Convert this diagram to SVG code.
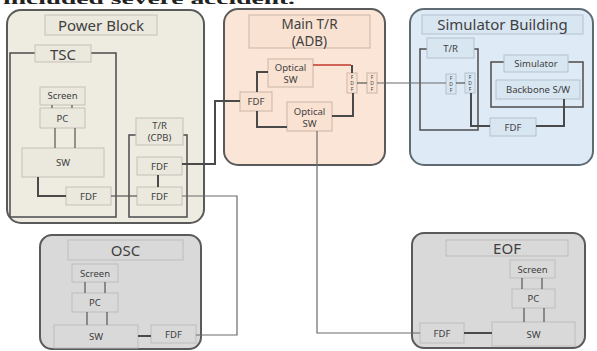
<svg xmlns="http://www.w3.org/2000/svg" width="597" height="351" viewBox="0 0 597 351">
  <style>
    .t { font-family: "Noto Sans", "Open Sans", "Liberation Sans", sans-serif; fill: #404040; text-anchor: middle; }
    .big { font-size: 15px; }
    .mid { font-size: 13.5px; }
    .sm { font-size: 9.5px; }
    .tiny { font-size: 5px; }
    .outer { stroke: #5a5a5a; stroke-width: 2; }
    .pb { fill: #eeebe1; }
    .mt { fill: #fbe5d6; }
    .sb { fill: #deebf7; stroke: #5f6b73; }
    .gr { fill: #d9d9d9; }
    .bx-pb { fill: #ebe8de; stroke: #c4c1b8; stroke-width: 1; }
    .bx-mt { fill: #fae2d2; stroke: #c9b5a8; stroke-width: 1; }
    .bx-sb { fill: #d8e6f2; stroke: #b4c2cc; stroke-width: 1; }
    .bx-gr { fill: #d9d9d9; stroke: #bdbdbd; stroke-width: 1; }
    .brk { fill: none; stroke: #555; stroke-width: 1.6; }
    .lk { fill: none; stroke: #4a4a4a; stroke-width: 2; }
    .pair { fill: none; stroke: #555; stroke-width: 1.2; }
    .far { fill: none; stroke: #6a6a6a; stroke-width: 1.2; }
    .red { fill: none; stroke: #c0392b; stroke-width: 1.6; }
  </style>

  <!-- caption line above the figure; only its lower edge falls inside the frame -->
  <text x="3" y="4" font-family="Liberation Serif, serif" font-size="14" font-weight="bold" fill="#222" textLength="292" lengthAdjust="spacingAndGlyphs">included severe accident.</text>

  <!-- Power Block -->
  <g id="power-block">
    <rect class="outer pb" x="7" y="10" width="197" height="213" rx="14"/>
    <rect class="bx-pb" x="45" y="15" width="112" height="20"/>
    <text class="t big" x="101" y="31">Power Block</text>
  </g>
  <g id="tsc">
    <rect class="brk" x="10" y="53" width="106" height="164"/>
    <rect class="bx-pb" x="35" y="45" width="56" height="17"/>
    <text class="t big" x="63" y="60">TSC</text>
  </g>
  <g id="tsc-screen">
    <rect class="bx-pb" x="40" y="87" width="45" height="18"/>
    <text class="t sm" x="62.5" y="99">Screen</text>
  </g>
  <g id="tsc-pc">
    <rect class="bx-pb" x="40" y="108" width="45" height="20"/>
    <text class="t sm" x="62.5" y="121.5">PC</text>
  </g>
  <g id="tsc-sw">
    <rect class="bx-pb" x="22" y="148" width="82" height="29"/>
    <text class="t sm" x="63" y="166">SW</text>
  </g>
  <g id="tsc-fdf">
    <rect class="bx-pb" x="66" y="187" width="45" height="18"/>
    <text class="t sm" x="88.5" y="199.5">FDF</text>
  </g>
  <g id="cpb">
    <rect class="brk" x="129" y="135" width="58" height="82"/>
    <rect class="bx-pb" x="136" y="118" width="47" height="27"/>
    <text class="t sm" x="159.5" y="129">T/R</text>
    <text class="t sm" x="159.5" y="141">(CPB)</text>
  </g>
  <g id="cpb-fdf-1">
    <rect class="bx-pb" x="137" y="157" width="45" height="18"/>
    <text class="t sm" x="159.5" y="169.5">FDF</text>
  </g>
  <g id="cpb-fdf-2">
    <rect class="bx-pb" x="137" y="187" width="45" height="18"/>
    <text class="t sm" x="159.5" y="199.5">FDF</text>
  </g>

  <!-- Main T/R (ADB) -->
  <g id="main-tr">
    <rect class="outer mt" x="224" y="9" width="161" height="156" rx="14"/>
    <rect class="bx-mt" x="249" y="15" width="121" height="33"/>
    <text class="t mid" x="309.5" y="28.5">Main T/R</text>
    <text class="t mid" x="309.5" y="45.5">(ADB)</text>
  </g>
  <g id="adb-osw-1">
    <rect class="bx-mt" x="268" y="59" width="45" height="28"/>
    <text class="t sm" x="290.5" y="71">Optical</text>
    <text class="t sm" x="290.5" y="83">SW</text>
  </g>
  <g id="adb-osw-2">
    <rect class="bx-mt" x="287" y="102" width="45" height="29"/>
    <text class="t sm" x="309.5" y="114.5">Optical</text>
    <text class="t sm" x="309.5" y="126.5">SW</text>
  </g>
  <g id="adb-fdf">
    <rect class="bx-mt" x="240" y="92" width="32" height="19"/>
    <text class="t sm" x="256" y="105">FDF</text>
  </g>
  <g id="adb-fdf-a">
    <rect class="bx-mt" x="347" y="73" width="10" height="20"/>
    <text class="t tiny" x="352" y="79">F</text>
    <text class="t tiny" x="352" y="85">D</text>
    <text class="t tiny" x="352" y="91">F</text>
  </g>
  <g id="adb-fdf-b">
    <rect class="bx-mt" x="367" y="73" width="10" height="20"/>
    <text class="t tiny" x="372" y="79">F</text>
    <text class="t tiny" x="372" y="85">D</text>
    <text class="t tiny" x="372" y="91">F</text>
  </g>

  <!-- Simulator Building -->
  <g id="simulator-building">
    <rect class="outer sb" x="410" y="9" width="183" height="156" rx="14"/>
    <rect class="bx-sb" x="422" y="15" width="161" height="19"/>
    <text class="t big" x="502.5" y="30">Simulator Building</text>
  </g>
  <g id="sim-tr">
    <rect class="brk" x="420" y="49" width="58" height="81"/>
    <rect class="bx-sb" x="427" y="38" width="47" height="20"/>
    <text class="t sm" x="450.5" y="51.5">T/R</text>
  </g>
  <g id="sim-fdf-a">
    <rect class="bx-sb" x="446" y="74" width="10" height="20"/>
    <text class="t tiny" x="451" y="80">F</text>
    <text class="t tiny" x="451" y="86">D</text>
    <text class="t tiny" x="451" y="92">F</text>
  </g>
  <g id="sim-fdf-b">
    <rect class="bx-sb" x="465" y="73" width="10" height="20"/>
    <text class="t tiny" x="470" y="79">F</text>
    <text class="t tiny" x="470" y="85">D</text>
    <text class="t tiny" x="470" y="91">F</text>
  </g>
  <g id="simulator">
    <rect class="brk" x="491" y="62" width="92" height="45"/>
    <rect class="bx-sb" x="504" y="55" width="64" height="17"/>
    <text class="t sm" x="536" y="67">Simulator</text>
  </g>
  <g id="backbone-sw">
    <rect class="bx-sb" x="496" y="80" width="84" height="19"/>
    <text class="t sm" x="538" y="93">Backbone S/W</text>
  </g>
  <g id="sim-fdf">
    <rect class="bx-sb" x="490" y="118" width="46" height="18"/>
    <text class="t sm" x="513" y="130.5">FDF</text>
  </g>

  <!-- OSC -->
  <g id="osc">
    <rect class="outer gr" x="40" y="235" width="161" height="114" rx="12"/>
    <rect class="bx-gr" x="68" y="240" width="115" height="20"/>
    <text class="t big" x="125.5" y="255.5">OSC</text>
  </g>
  <g id="osc-screen">
    <rect class="bx-gr" x="72" y="264" width="46" height="18"/>
    <text class="t sm" x="95" y="276.5">Screen</text>
  </g>
  <g id="osc-pc">
    <rect class="bx-gr" x="72" y="293" width="46" height="19"/>
    <text class="t sm" x="95" y="306">PC</text>
  </g>
  <g id="osc-sw">
    <rect class="bx-gr" x="54" y="325" width="84" height="23"/>
    <text class="t sm" x="96" y="340">SW</text>
  </g>
  <g id="osc-fdf">
    <rect class="bx-gr" x="151" y="325" width="45" height="18"/>
    <text class="t sm" x="173.5" y="337.5">FDF</text>
  </g>

  <!-- EOF -->
  <g id="eof">
    <rect class="outer gr" x="412" y="233" width="173" height="115" rx="12"/>
    <rect class="bx-gr" x="446" y="240" width="122" height="16"/>
    <text class="t big" x="507" y="254">EOF</text>
  </g>
  <g id="eof-screen">
    <rect class="bx-gr" x="510" y="260" width="45" height="18"/>
    <text class="t sm" x="532.5" y="272.5">Screen</text>
  </g>
  <g id="eof-pc">
    <rect class="bx-gr" x="512" y="289" width="43" height="19"/>
    <text class="t sm" x="533.5" y="302">PC</text>
  </g>
  <g id="eof-sw">
    <rect class="bx-gr" x="492" y="322" width="83" height="24"/>
    <text class="t sm" x="533.5" y="337.5">SW</text>
  </g>
  <g id="eof-fdf">
    <rect class="bx-gr" x="420" y="323" width="44" height="20"/>
    <text class="t sm" x="442" y="336.5">FDF</text>
  </g>

  <!-- connectors -->
  <g id="connectors">
    <!-- TSC internals -->
    <path class="pair" d="M52 105V108M72 105V108"/>
    <path class="pair" d="M55 128V148M75 128V148"/>
    <path class="lk" d="M38 177V196H66"/>
    <path class="pair" d="M111 196H137"/>
    <path class="lk" d="M158 175V187"/>
    <!-- CPB to ADB and OSC -->
    <path class="lk" d="M182 164H215V101H240"/>
    <path class="far" d="M182 196H237V335H196"/>
    <!-- ADB internals -->
    <path class="lk" d="M257 92V72H268"/>
    <path class="lk" d="M257 111V127H287"/>
    <path class="red" d="M313 65H351"/>
    <path class="lk" d="M352 65V73"/>
    <path class="lk" d="M332 116H353V93"/>
    <path class="pair" d="M357 83H367"/>
    <!-- ADB to Simulator Building and EOF -->
    <path class="far" d="M377 83H446"/>
    <path class="far" d="M317 131V333H420"/>
    <!-- Simulator Building internals -->
    <path class="pair" d="M456 83H465"/>
    <path class="lk" d="M471 93V126H490"/>
    <path class="lk" d="M564 99V126H536"/>
    <!-- OSC internals -->
    <path class="pair" d="M85 282V293M105 282V293"/>
    <path class="pair" d="M87 312V325M107 312V325"/>
    <path class="lk" d="M138 336H151"/>
    <!-- EOF internals -->
    <path class="pair" d="M522 278V289M542 278V289"/>
    <path class="pair" d="M524 308V322M544 308V322"/>
    <path class="lk" d="M464 333H492"/>
  </g>
</svg>
